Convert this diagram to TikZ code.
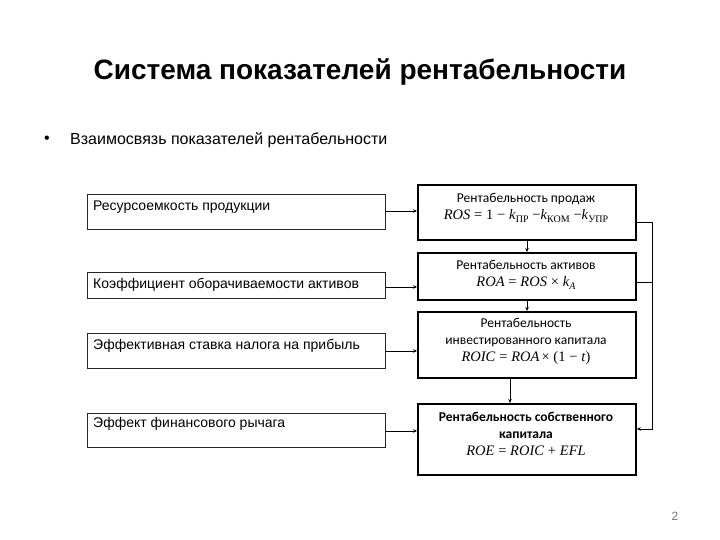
\documentclass[tikz,border=0pt]{standalone}
\usepackage{fontspec}
\setmainfont{Liberation Sans}
\newfontfamily\calib{Carlito}
\newfontfamily\fml{Liberation Serif}
\usetikzlibrary{arrows.meta}
\newcommand{\vr}[1]{\textit{#1}}
\newcommand{\sub}[1]{\raisebox{-2.5pt}{\fontsize{10}{12}\selectfont #1}}
\newcommand{\op}[1]{\hspace{3.8pt}#1\hspace{3.8pt}}
\begin{document}
\begin{tikzpicture}[x=1pt,y=-1pt,
  leftbox/.style={draw=black!85, line width=0.9pt, minimum width=298pt, anchor=north west, inner sep=0pt},
  lefttxt/.style={anchor=west, font=\fontsize{14}{16}\selectfont, inner sep=0pt},
  rightbox/.style={draw=black, line width=1.8pt, minimum width=218pt, anchor=north west, inner sep=0pt},
  righttxt/.style={align=center, font=\calib\fontsize{13.5}{17}\selectfont, inner sep=0pt},
  conn/.style={line width=0.8pt, -{Stealth[length=4pt,width=3.5pt]}},
  plain/.style={line width=0.8pt}]
\useasboundingbox (0,0) rectangle (720,540);

\node[font=\bfseries\fontsize{28}{32}\selectfont] (title) at (360,72) {Система показателей рентабельности};
\node[font=\fontsize{16}{19}\selectfont, anchor=west, inner sep=0pt] (bullet) at (44,140) {•};
\node[font=\fontsize{16}{19}\selectfont, anchor=west, inner sep=0pt] (sub) at (70,140) {Взаимосвязь показателей рентабельности};

% left boxes
\node[leftbox, minimum height=35pt] (l1) at (87,194) {};
\node[lefttxt] (t1) at (93,207) {Ресурсоемкость продукции};
\node[leftbox, minimum height=26pt] (l2) at (87,272) {};
\node[lefttxt] (t2) at (93,285) {Коэффициент оборачиваемости активов};
\node[leftbox, minimum height=35pt] (l3) at (87,333) {};
\node[lefttxt] (t3) at (93,346) {Эффективная ставка налога на прибыль};
\node[leftbox, minimum height=34pt] (l4) at (87,413) {};
\node[lefttxt] (t4) at (93,424) {Эффект финансового рычага};

% right boxes
\node[rightbox, minimum height=55pt] (r1) at (417,184) {};
\node[righttxt] (rt1) at (526,208) {Рентабельность продаж\\
  {\fml\fontsize{14.5}{17}\selectfont \vr{ROS}\op{=}1\op{−}\vr{k}\sub{ПР}\hspace{3.8pt}−\vr{k}\sub{КОМ}\hspace{3.8pt}−\vr{k}\sub{УПР}}};
\node[rightbox, minimum height=47pt] (r2) at (417,252) {};
\node[righttxt] (rt2) at (526,275) {Рентабельность активов\\
  {\fml\fontsize{14.5}{17}\selectfont \vr{ROA}\op{=}\vr{ROS}\op{×}\vr{k}\sub{\vr{A}}}};
\node[rightbox, minimum height=66pt] (r3) at (417,311) {};
\node[righttxt] (rt3) at (526,341) {Рентабельность\\инвестированного капитала\\
  {\fml\fontsize{14.5}{17}\selectfont \vr{ROIC}\op{=}\vr{ROA}\hspace{2pt}×\hspace{3.8pt}(1\op{−}\vr{t})}};
\node[rightbox, minimum height=71pt] (r4) at (417,403) {};
\node[righttxt] (rt4) at (526,434) {\bfseries Рентабельность собственного\\\bfseries капитала\\
  {\fml\fontsize{14.5}{17}\selectfont \vr{ROE}\op{=}\vr{ROIC}\op{+}\vr{EFL}}};

% left to right arrows
\draw[conn] (l1.east |- 0,211) -- (r1.west |- 0,211);
\draw[conn] (l2.east |- 0,287) -- (r2.west |- 0,287);
\draw[conn] (l3.east |- 0,351) -- (r3.west |- 0,351);
\draw[conn] (l4.east |- 0,431) -- (r4.west |- 0,431);

% vertical arrows
\draw[conn] (r1.south -| 527,0) -- (r2.north -| 527,0);
\draw[conn] (r2.south -| 527,0) -- (r3.north -| 527,0);
\draw[conn] (r3.south -| 510,0) -- (r4.north -| 510,0);

% feedback line
\coordinate (c1) at (652,222);
\coordinate (c2) at (652,282);
\coordinate (c3) at (652,429);
\draw[plain] (r1.east |- c1) -- (c1);
\draw[plain] (r2.east |- c2) -- (c2);
\draw[conn] (c1) -- (c3) -- (r4.east |- c3);

\node[font=\fontsize{12}{14}\selectfont, text=black!55] (pg) at (675,516) {2};
\end{tikzpicture}
\end{document}
